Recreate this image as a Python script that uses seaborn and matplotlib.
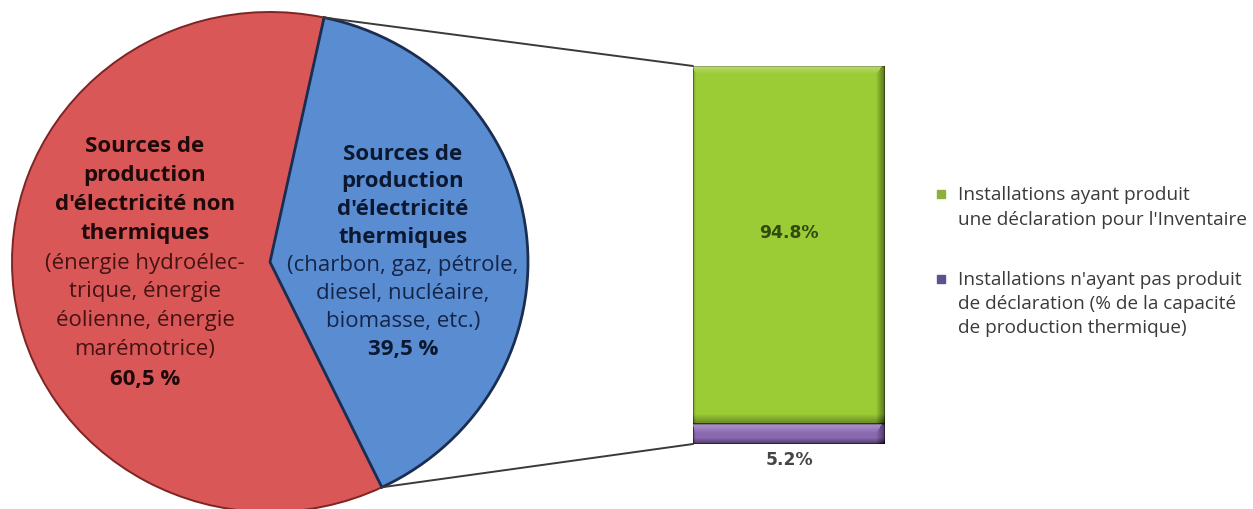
import numpy as np
import matplotlib
matplotlib.use("Agg")
import matplotlib.pyplot as plt
import seaborn as sns
from matplotlib.patches import ConnectionPatch, Rectangle

# ---------------- data ----------------
pie_categories = ["non thermiques", "thermiques"]
pie_values = [60.5, 39.5]
pie_bold_lines = [
    ["Sources de", "production", "d'électricité non", "thermiques"],
    ["Sources de", "production", "d'électricité", "thermiques"],
]
pie_regular_lines = [
    ["(énergie hydroélec-", "trique, énergie", "éolienne, énergie", "marémotrice)"],
    ["(charbon, gaz, pétrole,", "diesel, nucléaire,", "biomasse, etc.)"],
]
pie_pct_labels = ["60,5 %", "39,5 %"]

bar_categories = ["Installations ayant produit une déclaration",
                  "Installations n'ayant pas produit de déclaration"]
bar_values = [94.8, 5.2]
bar_labels = ["94.8%", "5.2%"]
legend_lines = [
    ["Installations ayant produit", "une déclaration pour l'Inventaire"],
    ["Installations n'ayant pas produit", "de déclaration (% de la capacité",
     "de production thermique)"],
]

# ---------------- style ----------------
sns.set_theme(style="white")
plt.rcParams["font.family"] = ["Open Sans", "DejaVu Sans"]

W, H = 1253, 510
fig = plt.figure(figsize=(W / 100, H / 100), dpi=100)
fig.patch.set_facecolor("white")

def fx(x):
    return x / W

def fy(y):
    return 1 - y / H

pie_colors = ["#D95757", "#5A8CD2"]
pie_edges = ["#7E2424", "#1A2E52"]
bar_colors = ["#9BCB35", "#8A68B0"]
legend_colors = ["#8CB03A", "#5C5290"]

# ---------------- pie ----------------
ax_pie = fig.add_axes([fx(12), (H - 513) / H, 516 / W, 500 / H])
wedges, _ = ax_pie.pie(pie_values, colors=pie_colors, startangle=77.9,
                       counterclock=True, radius=1.0)
for w, ec, lw in zip(wedges, pie_edges, [1.4, 2.0]):
    w.set_edgecolor(ec)
    w.set_linewidth(lw)
ax_pie.set_aspect("auto")
ax_pie.set_xlim(-1, 1)
ax_pie.set_ylim(-1, 1)
ax_pie.axis("off")

# pie labels
label_specs = [
    dict(x=145, y0=147, dy=29, bold_c="#1e0a0a", reg_c="#461313"),
    dict(x=403, y0=154, dy=28, bold_c="#0c1830", reg_c="#13264a"),
]
for i, spec in enumerate(label_specs):
    lines = ([(t, "bold") for t in pie_bold_lines[i]] +
             [(t, "normal") for t in pie_regular_lines[i]] +
             [(pie_pct_labels[i], "bold")])
    for k, (t, wgt) in enumerate(lines):
        fig.text(fx(spec["x"]), fy(spec["y0"] + k * spec["dy"]), t,
                 ha="center", va="center", fontsize=16, fontweight=wgt,
                 color=spec["bold_c"] if wgt == "bold" else spec["reg_c"])

# ---------------- stacked bar ----------------
ax_bar = fig.add_axes([fx(693), (H - 445) / H, 192 / W, 378 / H])
total = sum(bar_values)
sns.barplot(x=["x"], y=[total], color=bar_colors[0], width=0.8, saturation=1,
            edgecolor="#56741a", linewidth=1.2, ax=ax_bar)
sns.barplot(x=["x"], y=[bar_values[1]], color=bar_colors[1], width=0.8,
            saturation=1, edgecolor="#3e2e5e", linewidth=1.2, ax=ax_bar)
p_green, p_purple = ax_bar.patches[0], ax_bar.patches[1]


def bevel(ax, x0, x1, y0, y1, wpx, hpx, top_px, side_px, bot_px, top_a, side_a, bot_a):
    n_h, n_w = int(max(hpx, 2)), int(max(wpx, 2))
    v = (np.arange(n_h) + 0.5)          # pixels from top
    u = (np.arange(n_w) + 0.5)          # pixels from left
    V, U = np.meshgrid(v, u, indexing="ij")
    rgba = np.zeros((n_h, n_w, 4))
    top = np.clip(1 - V / top_px, 0, 1) * top_a
    right = np.clip(1 - (n_w - U) / side_px, 0, 1) * side_a
    left = np.clip(1 - U / 3.0, 0, 1) * side_a * 0.5
    bot = np.clip(1 - (n_h - V) / bot_px, 0, 1) * bot_a
    dark = np.clip(right + left + bot, 0, 0.8)
    # white highlight where top dominates, black shading elsewhere
    alpha = np.maximum(top, dark)
    white = (top >= dark).astype(float)
    rgba[..., 0] = white
    rgba[..., 1] = white
    rgba[..., 2] = white
    rgba[..., 3] = alpha
    ax.imshow(rgba, extent=[x0, x1, y0, y1], origin="upper", aspect="auto",
              zorder=5, interpolation="bilinear")


seg_px_per_unit = 378 / total
x0, x1 = p_green.get_x(), p_green.get_x() + p_green.get_width()
bevel(ax_bar, x0, x1, bar_values[1], total, 192, bar_values[0] * seg_px_per_unit,
      top_px=9, side_px=9, bot_px=10, top_a=0.35, side_a=0.45, bot_a=0.35)
bevel(ax_bar, x0, x1, 0, bar_values[1], 192, bar_values[1] * seg_px_per_unit,
      top_px=9, side_px=9, bot_px=6, top_a=0.30, side_a=0.45, bot_a=0.45)

ax_bar.set_xlim(-0.4, 0.4)
ax_bar.set_ylim(0, total)
ax_bar.axis("off")

ax_bar.text(0, bar_values[1] + bar_values[0] * 0.537, bar_labels[0],
            ha="center", va="center", fontsize=12.3, fontweight="bold",
            color="#2f4a12", family="DejaVu Sans", zorder=6)
ax_bar.text(0, -4.0, bar_labels[1], ha="center", va="center",
            fontsize=12.3, fontweight="bold", color="#454545",
            family="DejaVu Sans", clip_on=False)

# ---------------- connectors ----------------
t1 = np.deg2rad(wedges[0].theta1)
t2 = np.deg2rad(wedges[0].theta2)
top_bar = (p_green.get_x(), p_green.get_y() + p_green.get_height())
bot_bar = (p_purple.get_x(), p_purple.get_y())
for ang, pt in [(t1, top_bar), (t2, bot_bar)]:
    con = ConnectionPatch(xyA=(np.cos(ang), np.sin(ang)), coordsA=ax_pie.transData,
                          xyB=pt, coordsB=ax_bar.transData,
                          color="#3a3a3a", lw=1.4)
    fig.add_artist(con)

# ---------------- legend ----------------
leg_specs = [dict(y0=195, dy=25), dict(y0=280, dy=24)]
for i, spec in enumerate(leg_specs):
    fig.add_artist(Rectangle((fx(937), fy(spec["y0"] + 4)), 8 / W, 8 / H,
                             transform=fig.transFigure, color=legend_colors[i]))
    for k, t in enumerate(legend_lines[i]):
        fig.text(fx(958), fy(spec["y0"] + k * spec["dy"]), t, ha="left",
                 va="center", fontsize=13.7, color="#3a3a3a")

fig.savefig("out.png", dpi=100)
